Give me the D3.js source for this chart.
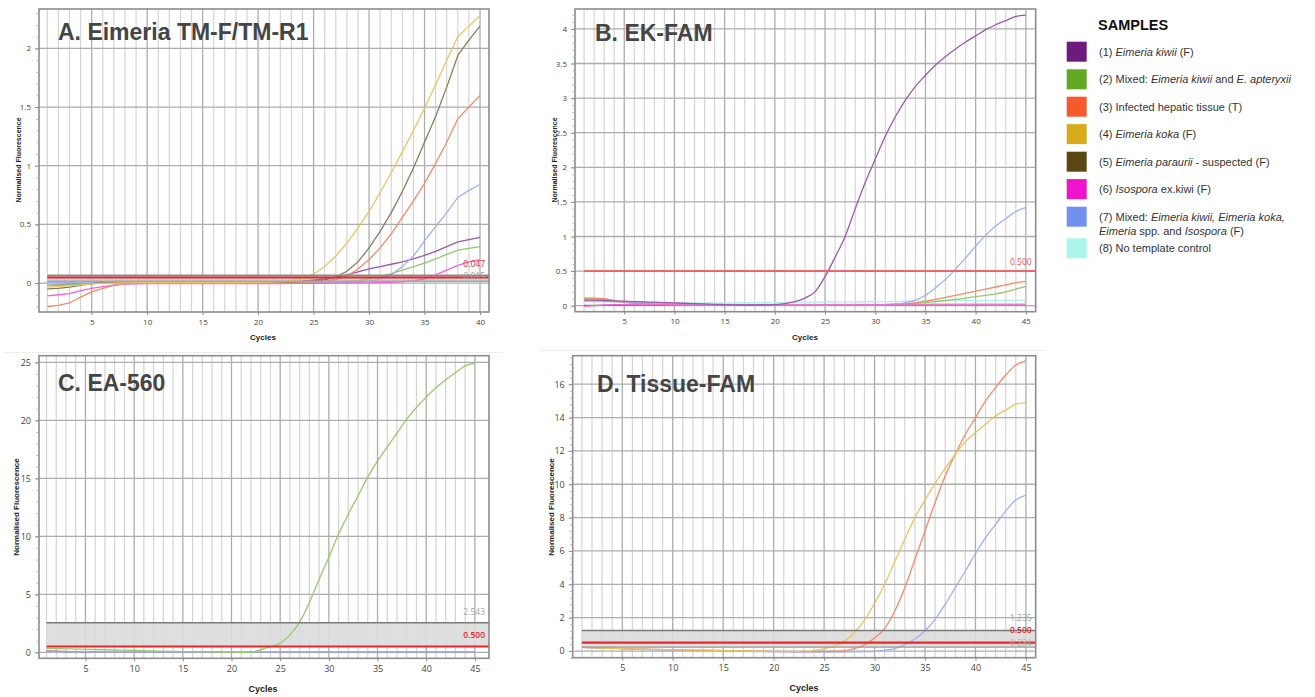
<!DOCTYPE html>
<html><head><meta charset="utf-8">
<script src="https://cdn.jsdelivr.net/npm/d3@7"></script>
<style>body{margin:0;background:#fff}svg{display:block}</style>
</head><body><svg id="c" width="1315" height="697"></svg>
<script>
// ---------- categories / ticks ----------
const cycles40 = [1,2,3,4,5,6,7,8,9,10,11,12,13,14,15,16,17,18,19,20,21,22,23,24,25,26,27,28,29,30,31,32,33,34,35,36,37,38,39,40];
const cycles45 = [1,2,3,4,5,6,7,8,9,10,11,12,13,14,15,16,17,18,19,20,21,22,23,24,25,26,27,28,29,30,31,32,33,34,35,36,37,38,39,40,41,42,43,44,45];
const xTicks40 = [5,10,15,20,25,30,35,40];
const xTicks45 = [5,10,15,20,25,30,35,40,45];
const yTicksA = [0,0.5,1,1.5,2];
const yTicksB = [0,0.5,1,1.5,2,2.5,3,3.5,4];
const yTicksC = [0,5,10,15,20,25];
const yTicksD = [0,2,4,6,8,10,12,14,16];

// ---------- legend ----------
const sampleIds = [1,2,3,4,5,6,7,8];
const lineColors = ['#9a5aa6','#95c96a','#f38a68','#e6c662','#857c5e','#f263da','#9db2f4','#b2f1e6'];
const swatchColors = ['#6c1c7a','#60a920','#f65a2c','#d8ab1a','#5b4711','#f012cc','#7290f0','#aaf6ea'];
const legendLines = [
  [[["(1) ",0],["Eimeria kiwii",1],[" (F)",0]]],
  [[["(2) Mixed: ",0],["Eimeria kiwii",1],[" and ",0],["E. apteryxii",1]]],
  [[["(3) Infected hepatic tissue (T)",0]]],
  [[["(4) ",0],["Eimeria koka",1],[" (F)",0]]],
  [[["(5) ",0],["Eimeria paraurii",1],[" - suspected (F)",0]]],
  [[["(6) ",0],["Isospora",1],[" ex.kiwi (F)",0]]],
  [[["(7) Mixed: ",0],["Eimeria kiwii, Eimeria koka,",1]],[["Eimeria",1],[" spp. and ",0],["Isospora",1],[" (F)",0]]],
  [[["(8) No template control",0]]]
];

// ---------- Panel A: Eimeria TM-F/TM-R1 (cycles 1-40) ----------
const A1 = [-0.02,-0.015,-0.01,-0.005,0,0.002,0.003,0.004,0.004,0.005,
  0.005,0.005,0.005,0.005,0.006,0.006,0.006,0.006,0.007,0.007,
  0.008,0.009,0.01,0.015,0.025,0.035,0.05,0.07,0.095,0.12,
  0.14,0.16,0.18,0.205,0.235,0.27,0.31,0.35,0.37,0.39];
const A2 = [-0.02,-0.018,-0.015,-0.01,-0.005,0,0,0.001,0.001,0.001,
  0.001,0.002,0.002,0.002,0.002,0.002,0.002,0.003,0.003,0.003,
  0.003,0.004,0.004,0.005,0.006,0.008,0.01,0.014,0.02,0.035,
  0.055,0.08,0.11,0.14,0.17,0.205,0.245,0.28,0.295,0.31];
const A3 = [-0.2,-0.19,-0.17,-0.12,-0.075,-0.045,-0.02,-0.005,0,0,
  0,0,0,0,0,0,0,0,0,0,
  0,0.002,0.004,0.007,0.011,0.017,0.03,0.06,0.12,0.2,
  0.3,0.42,0.56,0.7,0.85,1.02,1.2,1.4,1.5,1.6];
const A4 = [-0.035,-0.03,-0.025,-0.015,-0.008,-0.003,0,0.002,0.003,0.003,
  0.003,0.003,0.003,0.003,0.003,0.004,0.004,0.004,0.005,0.006,
  0.008,0.012,0.02,0.04,0.075,0.14,0.23,0.34,0.47,0.61,
  0.77,0.94,1.12,1.3,1.49,1.69,1.9,2.1,2.19,2.28];
const A5 = [-0.05,-0.045,-0.035,-0.02,-0.005,0.005,0.008,0.008,0.008,0.008,
  0.008,0.008,0.008,0.008,0.008,0.008,0.008,0.008,0.008,0.008,
  0.008,0.009,0.01,0.012,0.018,0.028,0.05,0.1,0.18,0.3,
  0.44,0.6,0.78,0.98,1.2,1.42,1.67,1.94,2.07,2.19];
const A6 = [-0.11,-0.1,-0.09,-0.065,-0.045,-0.03,-0.018,-0.01,-0.006,-0.005,
  -0.005,-0.005,-0.005,-0.005,-0.005,-0.005,-0.005,-0.005,-0.005,-0.005,
  -0.004,-0.004,-0.003,-0.003,-0.002,-0.002,-0.001,0,0.001,0.002,
  0.004,0.006,0.01,0.018,0.035,0.07,0.11,0.15,0.18,0.2];
const A7 = [0.005,0.004,0.003,0.002,0.001,0,0,0,0,0,
  0,0,0,0,0,0,0,0,0,0,
  0,0,0,0,0,0.001,0.002,0.004,0.008,0.015,
  0.035,0.07,0.14,0.23,0.36,0.48,0.6,0.73,0.79,0.84];
const A8 = [0.012,0.012,0.012,0.012,0.012,0.012,0.012,0.012,0.012,0.012,
  0.012,0.012,0.012,0.012,0.012,0.012,0.012,0.012,0.012,0.012,
  0.012,0.012,0.012,0.012,0.012,0.012,0.012,0.012,0.012,0.012,
  0.012,0.012,0.012,0.012,0.012,0.012,0.012,0.012,0.012,0.012];
const thresholdsA = [0.015,0.047,0.066];

// ---------- Panel B: EK-FAM (cycles 1-45) ----------
const B1 = [0.08,0.08,0.075,0.07,0.065,0.06,0.055,0.05,0.045,0.04,
  0.035,0.03,0.025,0.02,0.015,0.012,0.01,0.01,0.01,0.015,
  0.03,0.06,0.11,0.2,0.42,0.7,1.0,1.4,1.78,2.12,
  2.45,2.73,2.97,3.17,3.33,3.48,3.6,3.71,3.81,3.9,
  3.99,4.06,4.12,4.18,4.2];
const B2 = [0.1,0.1,0.09,0.065,0.045,0.035,0.03,0.025,0.022,0.02,
  0.018,0.016,0.014,0.012,0.01,0.009,0.008,0.007,0.006,0.005,
  0.005,0.005,0.005,0.005,0.005,0.006,0.007,0.008,0.009,0.01,
  0.012,0.016,0.022,0.032,0.045,0.06,0.075,0.09,0.11,0.13,
  0.15,0.17,0.2,0.24,0.28];
const B3 = [0.11,0.11,0.1,0.075,0.05,0.035,0.025,0.02,0.018,0.015,
  0.012,0.01,0.009,0.008,0.007,0.006,0.005,0.005,0.005,0.005,
  0.005,0.005,0.005,0.005,0.005,0.006,0.007,0.008,0.01,0.012,
  0.016,0.022,0.03,0.042,0.065,0.09,0.12,0.15,0.18,0.21,
  0.24,0.27,0.3,0.33,0.35];
const B4 = [0.11,0.1,0.095,0.07,0.05,0.04,0.032,0.028,0.025,0.022,
  0.02,0.02,0.02,0.02,0.02,0.02,0.02,0.02,0.02,0.02,
  0.02,0.02,0.02,0.02,0.02,0.02,0.02,0.02,0.02,0.02,
  0.02,0.02,0.021,0.022,0.023,0.024,0.025,0.025,0.025,0.025,
  0.025,0.025,0.025,0.025,0.025];
const B5 = [0.004,0.004,0.004,0.004,0.004,0.004,0.004,0.004,0.004,0.004,
  0.004,0.004,0.004,0.004,0.004,0.004,0.004,0.004,0.004,0.004,
  0.004,0.004,0.004,0.004,0.004,0.004,0.004,0.004,0.004,0.004,
  0.004,0.004,0.004,0.004,0.004,0.004,0.004,0.004,0.004,0.004,
  0.004,0.004,0.004,0.004,0.004];
const B6 = [-0.01,0,0.012,0.015,0.015,0.014,0.013,0.012,0.011,0.01,
  0.01,0.01,0.01,0.01,0.01,0.01,0.01,0.01,0.01,0.01,
  0.01,0.01,0.01,0.01,0.01,0.01,0.01,0.01,0.01,0.01,
  0.01,0.01,0.01,0.01,0.01,0.01,0.01,0.01,0.01,0.01,
  0.01,0.01,0.01,0.01,0.01];
const B7 = [0.07,0.068,0.065,0.06,0.055,0.05,0.045,0.04,0.035,0.03,
  0.026,0.022,0.018,0.015,0.012,0.01,0.008,0.006,0.005,0.004,
  0.003,0.003,0.003,0.003,0.003,0.003,0.004,0.005,0.007,0.01,
  0.015,0.025,0.045,0.08,0.15,0.26,0.38,0.53,0.69,0.86,
  1.02,1.15,1.26,1.36,1.42];
const B8 = [0.06,0.058,0.055,0.052,0.05,0.048,0.046,0.044,0.042,0.04,
  0.04,0.04,0.04,0.04,0.04,0.042,0.044,0.045,0.046,0.047,
  0.048,0.05,0.051,0.052,0.053,0.054,0.055,0.056,0.057,0.058,
  0.06,0.062,0.064,0.066,0.068,0.07,0.071,0.072,0.073,0.074,
  0.075,0.076,0.077,0.078,0.08];
const thresholdsB = [0.5];

// ---------- Panel C: EA-560 (cycles 1-45) ----------
const C1 = [0.12,0.1,0.07,0.05,0.04,0.03,0.025,0.02,0.02,0.02,
  0.02,0.02,0.02,0.02,0.02,0.02,0.02,0.02,0.02,0.02,
  0.02,0.02,0.02,0.02,0.02,0.02,0.02,0.02,0.02,0.02,
  0.02,0.02,0.02,0.02,0.02,0.02,0.02,0.02,0.02,0.02,
  0.02,0.02,0.02,0.02,0.02];
const C7 = [0.05,0.045,0.04,0.035,0.03,0.028,0.026,0.024,0.022,0.02,
  0.02,0.02,0.02,0.02,0.02,0.02,0.02,0.02,0.02,0.02,
  0.02,0.02,0.02,0.02,0.02,0.02,0.02,0.02,0.02,0.02,
  0.02,0.02,0.02,0.02,0.02,0.02,0.02,0.02,0.02,0.02,
  0.02,0.02,0.02,0.02,0.02];
const C2 = [0.34,0.32,0.3,0.28,0.26,0.24,0.22,0.2,0.18,0.16,
  0.14,0.12,0.1,0.08,0.06,0.05,0.04,0.03,0.02,0.01,
  0.005,0.02,0.22,0.48,0.78,1.5,2.6,4.3,6.3,8.2,
  10.2,11.9,13.5,15.1,16.5,17.7,18.9,20.1,21.1,22.0,
  22.8,23.5,24.1,24.7,24.9];
const thresholdsC = [0.5,2.543];

// ---------- Panel D: Tissue-FAM (cycles 1-45) ----------
const D4 = [0.22,0.2,0.18,0.16,0.14,0.12,0.11,0.1,0.09,0.08,
  0.07,0.06,0.05,0.04,0.03,0.02,0.01,0,-0.01,-0.02,
  -0.02,-0.02,-0.01,0.03,0.15,0.3,0.58,1.1,1.85,2.85,
  4.0,5.35,6.7,8.0,9.05,10.05,10.95,11.8,12.55,13.1,
  13.6,14.1,14.45,14.8,14.9];
const D3s = [0.22,0.2,0.18,0.16,0.14,0.12,0.11,0.1,0.09,0.08,
  0.07,0.06,0.05,0.04,0.03,0.02,0.01,0,-0.01,-0.02,
  -0.03,-0.03,-0.03,-0.03,-0.02,-0.01,0.03,0.15,0.36,0.78,
  1.35,2.4,3.8,5.5,7.2,8.9,10.5,11.8,13.0,14.0,
  15.0,15.8,16.55,17.15,17.4];
const D7 = [0.22,0.2,0.18,0.16,0.14,0.12,0.1,0.08,0.06,0.05,
  0.04,0.03,0.02,0.01,0,-0.01,-0.02,-0.03,-0.04,-0.05,
  -0.05,-0.06,-0.06,-0.06,-0.06,-0.06,-0.06,-0.05,-0.04,-0.02,
  0.05,0.15,0.38,0.72,1.22,1.9,2.8,3.8,4.8,5.85,
  6.8,7.6,8.4,9.05,9.35];
const thresholdsD = [0.234,0.5,1.235];

// ---------- drawing ----------
const RED = '#e8262c';
const svg = d3.select('#c');
const defs = svg.append('defs');
const FONT = "'Open Sans', 'DejaVu Sans', sans-serif";
const TFONT = "'Liberation Sans', Arial, sans-serif";

const panels = [
  {id:'A', title:'A. Eimeria TM-F/TM-R1', l:39, r:489, t:9, b:312, xDom:[0.252,40.81], yDom:[-0.247,2.336],
   cycles:cycles40, xTicks:xTicks40, yTicks:yTicksA, minor:0.1, curve:d3.curveLinear,
   series:[[1,A1],[2,A2],[8,A8],[7,A7],[6,A6],[3,A3],[5,A5],[4,A4]],
   band:[thresholdsA[0],thresholdsA[2]], bandFill:'#c8ccd0',
   lines:[[thresholdsA[2],'#8a8a8a',1.8],[thresholdsA[0],'#a6a6a6',1.5],[thresholdsA[1],RED,2]],
   labels:[[thresholdsA[0],'0.015','#a0a0a0',false,-5],[thresholdsA[1],'0.047',RED,false,-13]],
   titleX:58, titleY:40, ylX:19, ylY:160, ylSize:7, cyX:263, cyY:340, cySize:8, tickSize:8},
  {id:'B', title:'B. EK-FAM', l:575, r:1035.7, t:9, b:311.7, xDom:[0.094,45.98], yDom:[-0.087,4.288],
   cycles:cycles45, xTicks:xTicks45, yTicks:yTicksB, minor:0.1, curve:d3.curveMonotoneX,
   series:[[5,B5],[8,B8],[4,B4],[2,B2],[3,B3],[7,B7],[6,B6],[1,B1]],
   band:null, lines:[[thresholdsB[0],'#f0646c',2]],
   labels:[[thresholdsB[0],'0.500','#f0505a',false,-9.5]],
   titleX:595, titleY:41, ylX:555, ylY:160, ylSize:7, cyX:805, cyY:340, cySize:8, tickSize:8},
  {id:'C', title:'C. EA-560', l:39, r:489, t:355.7, b:658.3, xDom:[0.228,46.45], yDom:[-0.517,25.57],
   cycles:cycles45, xTicks:xTicks45, yTicks:yTicksC, minor:1, curve:d3.curveMonotoneX,
   series:[[1,C1],[7,C7],[2,C2]],
   band:[thresholdsC[0],thresholdsC[1]], bandFill:'#dcdcdc',
   lines:[[thresholdsC[1],'#7a7a7a',1.6],[thresholdsC[0],RED,2]],
   labels:[[thresholdsC[1],'2.543','#a3a3a3',false,-11],[thresholdsC[0],'0.500',RED,true,-11.5]],
   titleX:58, titleY:391, ylX:16, ylY:507, ylSize:8, cyX:263, cyY:692, cySize:9, tickSize:9},
  {id:'D', title:'D. Tissue-FAM', l:572.7, r:1035.7, t:355.7, b:657.7, xDom:[0.088,45.97], yDom:[-0.40,17.71],
   cycles:cycles45, xTicks:xTicks45, yTicks:yTicksD, minor:0.4, curve:d3.curveMonotoneX,
   series:[[7,D7],[3,D3s],[4,D4]],
   band:[thresholdsD[0],thresholdsD[2]], bandFill:'#dcdcdc',
   lines:[[thresholdsD[2],'#7a7a7a',1.6],[thresholdsD[0],'#9a9a9a',1.3],[thresholdsD[1],RED,2.2]],
   labels:[[thresholdsD[2],'1.235','#a3a3a3',false,-12],[thresholdsD[0],'0.234','#b0b0b0',false,-4],[thresholdsD[1],'0.500',RED,true,-13]],
   titleX:597, titleY:392, ylX:551, ylY:507, ylSize:8, cyX:804, cyY:691, cySize:9, tickSize:9}
];

// faint separators between upper and lower panels
svg.append('line').attr('x1',4).attr('x2',503).attr('y1',352.5).attr('y2',352.5).attr('stroke','#ededed');
svg.append('line').attr('x1',540).attr('x2',1046).attr('y1',350.5).attr('y2',350.5).attr('stroke','#ededed');

panels.forEach(p => {
  const x = d3.scaleLinear().domain(p.xDom).range([p.l, p.r]);
  const y = d3.scaleLinear().domain(p.yDom).range([p.b, p.t]);
  const g = svg.append('g');
  const cid = 'clip' + p.id;
  defs.append('clipPath').attr('id', cid).append('rect')
    .attr('x', p.l).attr('y', p.t).attr('width', p.r - p.l).attr('height', p.b - p.t);

  // vertical grid: every cycle, darker every 5
  g.append('g').selectAll('line').data(p.cycles).join('line')
    .attr('x1', d => x(d)).attr('x2', d => x(d)).attr('y1', p.t).attr('y2', p.b)
    .attr('stroke', d => d % 5 === 0 ? '#adadad' : '#d4d4d4').attr('stroke-width', d => d % 5 === 0 ? 1.3 : 1.2);
  // horizontal grid
  g.append('g').selectAll('line').data(p.yTicks).join('line')
    .attr('x1', p.l).attr('x2', p.r).attr('y1', d => y(d)).attr('y2', d => y(d))
    .attr('stroke', '#adadad').attr('stroke-width', 1.3);

  // threshold band
  if (p.band) {
    g.append('rect').attr('x', x(1)).attr('width', p.r - x(1))
      .attr('y', y(p.band[1])).attr('height', y(p.band[0]) - y(p.band[1]))
      .attr('fill', p.bandFill).attr('opacity', 0.9);
  }

  // amplification curves
  const line = d3.line().x((d, i) => x(p.cycles[i])).y(d => y(d)).curve(p.curve);
  g.append('g').attr('clip-path', `url(#${cid})`).selectAll('path').data(p.series).join('path')
    .attr('d', s => line(s[1])).attr('fill', 'none')
    .attr('stroke', s => lineColors[s[0] - 1]).attr('stroke-width', 1.3);

  // threshold lines
  g.append('g').selectAll('line').data(p.lines).join('line')
    .attr('x1', x(1)).attr('x2', p.r).attr('y1', d => y(d[0])).attr('y2', d => y(d[0]))
    .attr('stroke', d => d[1]).attr('stroke-width', d => d[2]);
  g.append('g').selectAll('text').data(p.labels).join('text')
    .attr('x', p.r - 4).attr('y', d => y(d[0]) + d[4]).attr('dy', '0.35em')
    .attr('text-anchor', 'end').attr('font-family', FONT).attr('font-size', 8.5)
    .attr('font-weight', d => d[3] ? 600 : 400).attr('fill', d => d[2]).text(d => d[1]);

  // frame
  g.append('rect').attr('x', p.l).attr('y', p.t).attr('width', p.r - p.l).attr('height', p.b - p.t)
    .attr('fill', 'none').attr('stroke', '#8c8c8c').attr('stroke-width', 1.6);

  // axes
  const xa = g.append('g').attr('transform', `translate(0,${p.b})`)
    .call(d3.axisBottom(x).tickValues(p.xTicks).tickSize(3).tickPadding(4).tickFormat(d3.format('d')));
  xa.select('.domain').remove();
  xa.selectAll('line').attr('stroke', '#8c8c8c');
  xa.selectAll('text').attr('font-family', FONT).attr('font-size', p.tickSize).attr('fill', '#444');

  const minorVals = d3.range(Math.ceil(p.yDom[0] / p.minor), Math.floor(p.yDom[1] / p.minor) + 1).map(k => k * p.minor);
  const ym = g.append('g').attr('transform', `translate(${p.l},0)`)
    .call(d3.axisLeft(y).tickValues(minorVals).tickSize(2.5).tickFormat(''));
  ym.select('.domain').remove();
  ym.selectAll('line').attr('stroke', '#b0b0b0');
  const ya = g.append('g').attr('transform', `translate(${p.l},0)`)
    .call(d3.axisLeft(y).tickValues(p.yTicks).tickSize(4).tickPadding(4).tickFormat(d => String(d)));
  ya.select('.domain').remove();
  ya.selectAll('line').attr('stroke', '#8c8c8c');
  ya.selectAll('text').attr('font-family', FONT).attr('font-size', p.tickSize).attr('fill', '#444');

  // axis titles
  g.append('text').attr('transform', `translate(${p.ylX},${p.ylY}) rotate(-90)`)
    .attr('text-anchor', 'middle').attr('dy', '0.35em').attr('font-family', TFONT)
    .attr('font-size', p.ylSize).attr('font-weight', 'bold').attr('fill', '#222')
    .text('Normalised Fluorescence');
  g.append('text').attr('x', p.cyX).attr('y', p.cyY).attr('text-anchor', 'middle')
    .attr('font-family', TFONT).attr('font-size', p.cySize).attr('font-weight', 'bold').attr('fill', '#222')
    .text('Cycles');

  // panel title
  g.append('text').attr('x', p.titleX).attr('y', p.titleY).attr('font-family', TFONT)
    .attr('font-size', 23).attr('font-weight', 'bold').attr('fill', '#454545').text(p.title);
});

// ---------- legend ----------
const lg = svg.append('g');
lg.append('text').attr('x', 1098).attr('y', 30).attr('font-family', TFONT).attr('font-size', 14.5)
  .attr('font-weight', 'bold').attr('fill', '#111').text('SAMPLES');
const rowTop = [41.7, 69.3, 96.7, 124.1, 151.7, 179.1, 206.7, 238.3];
sampleIds.forEach((id, i) => {
  const yy = rowTop[i];
  lg.append('rect').attr('x', 1066.7).attr('y', yy).attr('width', 20).attr('height', 20).attr('fill', swatchColors[i]);
  legendLines[i].forEach((segs, li) => {
    const t = lg.append('text').attr('x', 1099).attr('y', yy + 14 + li * 14.5)
      .attr('font-family', TFONT).attr('font-size', 11).attr('fill', '#333');
    segs.forEach(s => t.append('tspan').attr('font-style', s[1] ? 'italic' : 'normal').text(s[0]));
  });
});
</script>
</body></html>
